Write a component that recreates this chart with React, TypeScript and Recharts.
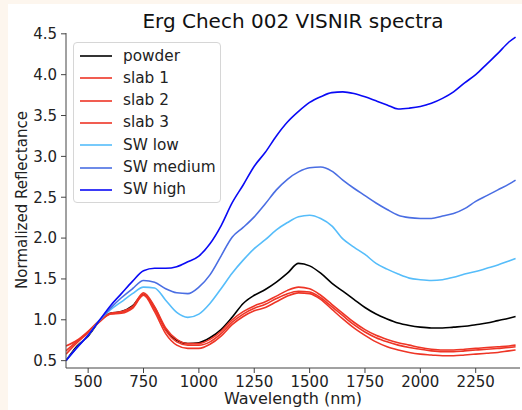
import { LineChart, Line, XAxis, YAxis } from "recharts";

const wavelengths = [
  400, 450, 500, 550, 600, 650, 700, 750, 800, 850, 900, 950, 1000, 1050, 1100,
  1150, 1200, 1250, 1300, 1350, 1400, 1450, 1500, 1550, 1600, 1650, 1700, 1750,
  1800, 1850, 1900, 1950, 2000, 2050, 2100, 2150, 2200, 2250, 2300, 2350, 2400,
  2430,
];

const powder = [
  0.5, 0.68, 0.8, 0.98, 1.08, 1.1, 1.17, 1.31, 1.15, 0.88, 0.75, 0.71, 0.72,
  0.78, 0.88, 1.03, 1.2, 1.3, 1.37, 1.46, 1.57, 1.69, 1.66, 1.57, 1.45, 1.35,
  1.25, 1.15, 1.07, 1.01, 0.96, 0.93, 0.91, 0.9, 0.9, 0.91, 0.92, 0.94, 0.96,
  0.99, 1.02, 1.04,
];

const slab1 = [
  0.68, 0.75, 0.86, 0.99, 1.08, 1.1, 1.16, 1.33, 1.16, 0.9, 0.76, 0.71, 0.71,
  0.76, 0.86, 1.0, 1.1, 1.17, 1.22, 1.29, 1.36, 1.4, 1.38, 1.3, 1.19, 1.08,
  0.97, 0.88, 0.81, 0.76, 0.72, 0.69, 0.66, 0.64, 0.63, 0.63, 0.64, 0.65, 0.66,
  0.67, 0.68, 0.69,
];

const slab2 = [
  0.62, 0.74, 0.85, 0.98, 1.07, 1.09, 1.15, 1.31, 1.13, 0.87, 0.73, 0.69, 0.69,
  0.73, 0.83, 0.97, 1.07, 1.14, 1.19, 1.26, 1.32, 1.35, 1.34, 1.27, 1.16, 1.05,
  0.94, 0.85, 0.78, 0.73, 0.69, 0.66, 0.64, 0.62, 0.61, 0.61, 0.62, 0.63, 0.64,
  0.65, 0.66, 0.67,
];

const slab3 = [
  0.58, 0.72, 0.84, 0.97, 1.07, 1.08, 1.14, 1.3, 1.1, 0.83, 0.69, 0.65, 0.65,
  0.7, 0.8, 0.94, 1.04, 1.11, 1.15, 1.22, 1.29, 1.33, 1.32, 1.25, 1.13, 1.01,
  0.9, 0.81, 0.73, 0.67, 0.63, 0.6, 0.58, 0.57, 0.56, 0.56, 0.57, 0.58, 0.59,
  0.6, 0.62, 0.63,
];

const swLow = [
  0.5, 0.66, 0.81, 0.99, 1.12, 1.22, 1.32, 1.4, 1.39, 1.24, 1.09, 1.03, 1.07,
  1.2, 1.38, 1.57, 1.73, 1.87, 1.98, 2.1, 2.19, 2.26, 2.28, 2.24, 2.15, 1.99,
  1.89, 1.8, 1.69, 1.62, 1.56, 1.51, 1.49, 1.48, 1.49, 1.52, 1.56, 1.59, 1.63,
  1.67, 1.72, 1.75,
];

const swMedium = [
  0.5, 0.66, 0.81, 0.99, 1.14, 1.27, 1.38, 1.48, 1.46, 1.38, 1.33, 1.32, 1.4,
  1.55, 1.78, 2.01, 2.13, 2.26, 2.42, 2.59, 2.72, 2.81, 2.86, 2.87, 2.82, 2.71,
  2.61, 2.52, 2.43, 2.35, 2.28, 2.25, 2.24, 2.24, 2.27, 2.3, 2.36, 2.45, 2.52,
  2.59, 2.66, 2.71,
];

const swHigh = [
  0.5, 0.66, 0.81, 0.99, 1.17, 1.32, 1.47, 1.6, 1.63, 1.63, 1.65, 1.71, 1.78,
  1.93, 2.15, 2.43, 2.65, 2.88, 3.05, 3.25, 3.42, 3.55, 3.66, 3.73, 3.78, 3.79,
  3.77, 3.73, 3.68, 3.63, 3.58, 3.59, 3.61, 3.65, 3.71, 3.79, 3.9, 4.0, 4.13,
  4.26, 4.4, 4.46,
];

const xTicks = [500, 750, 1000, 1250, 1500, 1750, 2000, 2250];
const yTicks = [0.5, 1.0, 1.5, 2.0, 2.5, 3.0, 3.5, 4.0, 4.5];

const series = [
  { key: "powder", name: "powder", color: "#000000", values: powder },
  { key: "slab1", name: "slab 1", color: "#ee3526", values: slab1 },
  { key: "slab2", name: "slab 2", color: "#ee3526", values: slab2 },
  { key: "slab3", name: "slab 3", color: "#ee3526", values: slab3 },
  { key: "swLow", name: "SW low", color: "#56bdfa", values: swLow },
  { key: "swMedium", name: "SW medium", color: "#4a6ee3", values: swMedium },
  { key: "swHigh", name: "SW high", color: "#0a0af5", values: swHigh },
];

const data = wavelengths.map((wl, i) => {
  const row: Record<string, number> = { wl };
  series.forEach((s) => {
    row[s.key] = s.values[i];
  });
  return row;
});

const font = "'DejaVu Sans', sans-serif";
const tickStyle = { fill: "#222", fontSize: 15, fontFamily: font };

function LegendBox() {
  return (
    <div
      style={{
        position: "absolute",
        left: 65,
        top: 38,
        width: 146,
        border: "1px solid #d6d6d6",
        borderRadius: 4,
        background: "rgba(255,255,255,0.85)",
        padding: "2px 0 1px",
        fontFamily: font,
        fontSize: 15.3,
        color: "#222",
        lineHeight: 1,
      }}
    >
      {series.map((s) => (
        <div
          key={s.key}
          style={{ display: "flex", alignItems: "center", height: 22.3 }}
        >
          <svg width={49} height={10} style={{ flex: "none" }}>
            <line x1={6} x2={38} y1={5} y2={5} stroke={s.color} strokeWidth={1.6} />
          </svg>
          <span>{s.name}</span>
        </div>
      ))}
    </div>
  );
}

export default function App() {
  return (
    <div style={{ position: "fixed", inset: 0, background: "#fdf6ee" }}>
      <div
        style={{
          position: "absolute",
          left: 8,
          top: 4,
          width: 514,
          height: 406,
          background: "#ffffff",
        }}
      >
        <LineChart
          width={514}
          height={406}
          data={data}
          margin={{ top: 29, right: 2, left: 0, bottom: 0 }}
        >
          <text
            x={285}
            y={24}
            textAnchor="middle"
            style={{ fontFamily: font, fontSize: 20, fill: "#111" }}
          >
            Erg Chech 002 VISNIR spectra
          </text>
          <text
            x={0}
            y={0}
            transform="translate(14,196) rotate(-90)"
            textAnchor="middle"
            dominantBaseline="central"
            style={{ fontFamily: font, fontSize: 15, fill: "#222" }}
          >
            Normalized Reflectance
          </text>
          <text
            x={285}
            y={400}
            textAnchor="middle"
            style={{ fontFamily: font, fontSize: 16, fill: "#222" }}
          >
            Wavelength (nm)
          </text>
          <XAxis
            dataKey="wl"
            type="number"
            domain={[400, 2450]}
            ticks={xTicks}
            tick={tickStyle}
            tickSize={5}
            tickMargin={3}
            height={42}
            stroke="#444"
            allowDataOverflow
          />
          <XAxis
            xAxisId="top"
            dataKey="wl"
            type="number"
            domain={[400, 2450]}
            orientation="top"
            height={0}
            tick={false}
            tickLine={false}
            stroke="#444"
          />
          <YAxis
            type="number"
            domain={[0.41, 4.51]}
            ticks={yTicks}
            tick={tickStyle}
            tickFormatter={(v: number) => v.toFixed(1)}
            tickSize={5}
            tickMargin={4}
            width={58}
            stroke="#444"
            allowDataOverflow
          />
          <YAxis
            yAxisId="right"
            orientation="right"
            domain={[0.41, 4.51]}
            width={0}
            tick={false}
            tickLine={false}
            stroke="#444"
          />
          {series.map((s) => (
            <Line
              key={s.key}
              dataKey={s.key}
              name={s.name}
              type="monotone"
              stroke={s.color}
              strokeWidth={1.6}
              dot={false}
              isAnimationActive={false}
            />
          ))}
        </LineChart>
        <LegendBox />
      </div>
    </div>
  );
}
